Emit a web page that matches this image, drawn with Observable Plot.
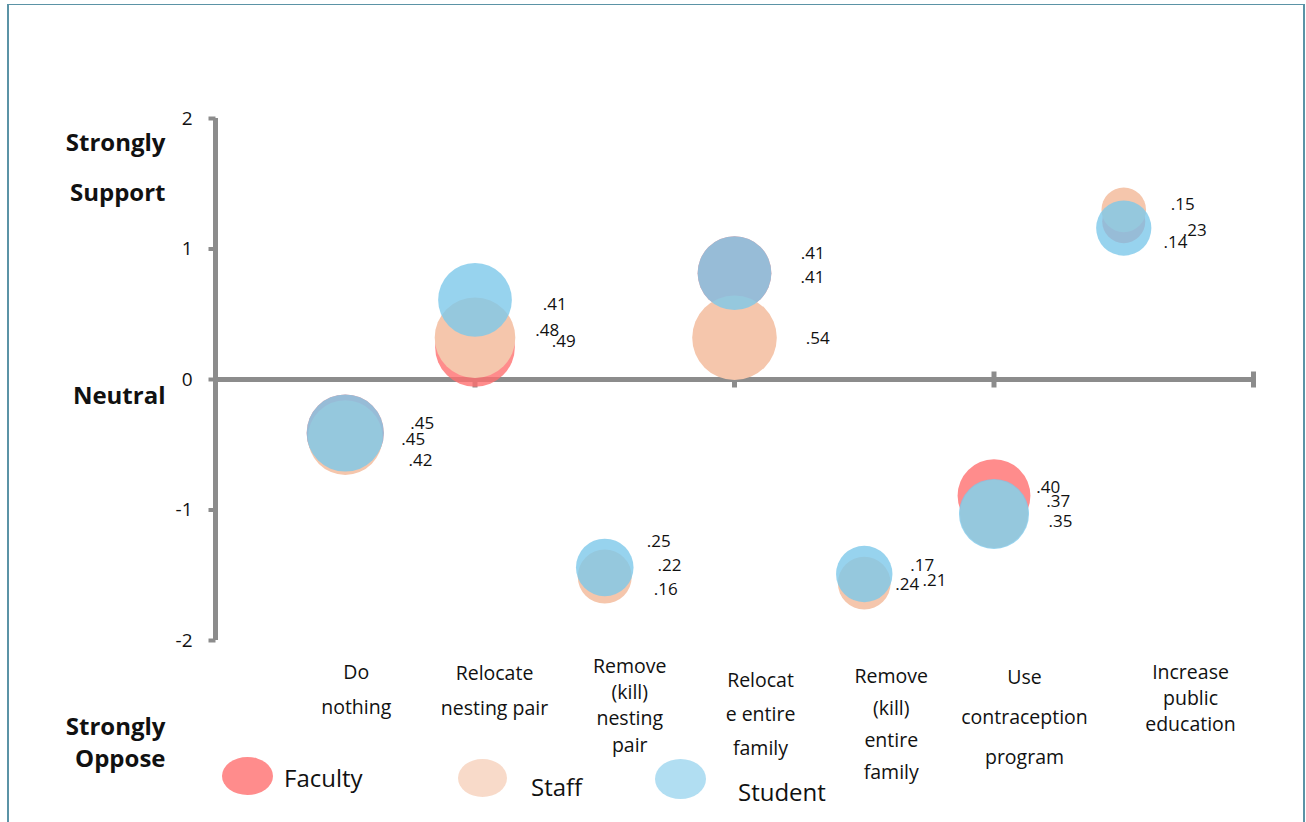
<!DOCTYPE html>
<html>
<head>
<meta charset="utf-8">
<script src="https://cdn.jsdelivr.net/npm/d3@7"></script>
<script src="https://cdn.jsdelivr.net/npm/@observablehq/plot@0.6"></script>
<style>
  html, body { margin: 0; padding: 0; background: #fff; }
  #wrap { position: relative; width: 1306px; height: 822px; overflow: hidden; font-family: "Open Sans", sans-serif; }
  #frame { position: absolute; left: 7px; top: 4px; width: 1294px; height: 840px;
           border-left: 2px solid #5b93a6; border-top: 1px solid #5b93a6; border-right: 2px solid #5b93a6; }
  #wrap svg { position: absolute; left: 0; top: 0; }
  .legend-swatch { border-radius: 50%; }
  .legend-text { font-size: 24px; color: #111; }
</style>
</head>
<body>
<div id="wrap"><div id="frame"></div></div>
<script>
// Management options, one bubble per group at each option
const categories = [
  "Do nothing", "Relocate nesting pair", "Remove (kill) nesting pair",
  "Relocate entire family", "Remove (kill) entire family",
  "Use contraception program", "Increase public education"
];
const categoryX = [1, 2, 3, 4, 5, 6, 7];
const categoryLines = [
  ["Do", "nothing"],
  ["Relocate", "nesting pair"],
  ["Remove", "(kill)", "nesting", "pair"],
  ["Relocat", "e entire", "family"],
  ["Remove", "(kill)", "entire", "family"],
  ["Use", "contraception", "program"],
  ["Increase", "public", "education"]
];

const groups = ["Faculty", "Staff", "Student"];

// Mean support score (-2 strongly oppose .. 2 strongly support)
const facultyMean = [-0.41, 0.25, -1.50, 0.815, -1.55, -0.89, 1.21];
const staffMean   = [-0.445, 0.32, -1.51, 0.32, -1.56, -1.03, 1.30];
const studentMean = [-0.41, 0.61, -1.44, 0.815, -1.49, -1.03, 1.16];

// Bubble size values (shown as labels)
const facultySize = [0.45, 0.48, 0.16, 0.41, 0.17, 0.40, 0.14];
const staffSize   = [0.42, 0.49, 0.22, 0.54, 0.21, 0.35, 0.15];
const studentSize = [0.45, 0.41, 0.25, 0.41, 0.24, 0.37, 0.23];

const yTicks = [-2, -1, 0, 1, 2];
const xTicks = [2, 4, 6, 8];

// Label placement nudges (pixels) for each group's value labels
const facultyLabelNudge = [[77, -9.2], [72.2, -16.8], [61, 14.6], [78.3, -19.9], [58, -16.3], [54.2, -7.7], [51.75, 21.2]];
const staffLabelNudge   = [[75.3, 22.9], [88.8, 4.3], [64.75, -11], [83.3, 1.1], [70.3, -3], [66.5, 7.3], [59, -5.7]];
const studentLabelNudge = [[68, 6.5], [79.8, 4.7], [54, -26], [78, 4.1], [43, 10.3], [64.2, -12.3], [71, 2.6]];

// Category label placement: horizontal nudge, first-line offset below the axis end, line spacing
const categoryLabelDx = [11, 19.5, 25, 26, 27, 30.5, 66.75];
const categoryLabelTop = [32, 33, 26, 40, 36, 37, 32];
const categoryLabelStep = [35, 35, 26.3, 34, 32, 40, 26];

// Scale annotations on the left
const sideText = ["Strongly", "Support", "Neutral", "Strongly", "Oppose"];
const sideAt = [2, 2, 0, -2, -2];
const sideDy = [25, 75, 17, 87, 119];

const table = (means, sizes, group) => categories.map((c, i) => ({
  category: c, x: categoryX[i], y: means[i], size: sizes[i], group
}));
const faculty = table(facultyMean, facultySize, "Faculty");
const staff = table(staffMean, staffSize, "Staff");
const student = table(studentMean, studentSize, "Student");

const fmt = v => d3.format(".2f")(v).replace(/^0/, "");

// Tick glyphs for the hand-drawn axes
const leftTick = { draw(ctx, size) { const r = Math.sqrt(size / Math.PI); ctx.moveTo(-r, 0); ctx.lineTo(0, 0); } };
const crossTick = { draw(ctx, size) { const r = Math.sqrt(size / Math.PI); ctx.moveTo(0, -r); ctx.lineTo(0, r); } };

const axisColor = "#8c8c8c";

const valueLabels = (rows, nudges) => rows.map((d, i) => Plot.text([d], {
  x: "x", y: "y", text: r => fmt(r.size),
  dx: nudges[i][0], dy: nudges[i][1],
  fontSize: 17, fill: "#111", textAnchor: "middle"
}));

// Each category label line as its own positioned text
const categoryLineMarks = categoryLines.flatMap((lines, i) => lines.map((t, j) => Plot.text([t], {
  x: () => categoryX[i], y: () => -2, text: d => d,
  dx: categoryLabelDx[i], dy: categoryLabelTop[i] + j * categoryLabelStep[i],
  fontSize: 19.5, fill: "#111", textAnchor: "middle"
})));

const sideMarks = sideText.map((t, i) => Plot.text([t], {
  x: () => 0, y: () => sideAt[i], text: d => d,
  dx: -50, dy: sideDy[i], textAnchor: "end",
  fontSize: 24, fontWeight: "bold", fill: "#111"
}));

const chart = Plot.plot({
  width: 1306,
  height: 822,
  marginLeft: 215,
  marginRight: 53,
  marginTop: 118,
  marginBottom: 182,
  style: { fontFamily: "Open Sans, sans-serif", background: "transparent", overflow: "visible" },
  x: { domain: [0, 8], axis: null },
  y: { domain: [-2, 2], axis: null },
  r: { type: "sqrt", domain: [0, 0.54], range: [0, 42.3] },
  marks: [
    // axes
    Plot.ruleX([0], { y1: -2, y2: 2, stroke: axisColor, strokeWidth: 5 }),
    Plot.ruleY([0], { x1: 0, x2: 8, stroke: axisColor, strokeWidth: 5 }),
    Plot.dot(yTicks, { x: () => 0, y: d => d, r: 7, symbol: leftTick, stroke: axisColor, strokeWidth: 4 }),
    Plot.dot(xTicks, { x: d => d, y: () => 0, r: 8, symbol: crossTick, stroke: axisColor, strokeWidth: 5 }),
    Plot.text(yTicks, { x: () => 0, y: d => d, text: d => String(d), dx: -23, textAnchor: "end", fontSize: 19, fill: "#111" }),
    // bubbles, drawn faculty → staff → student
    Plot.dot(faculty, { x: "x", y: "y", r: "size", fill: "rgb(255,111,111)", fillOpacity: 0.8, sort: null }),
    Plot.dot(staff, { x: "x", y: "y", r: "size", fill: "rgb(245,198,172)", fillOpacity: 1, sort: null }),
    Plot.dot(student, { x: "x", y: "y", r: "size", fill: "rgb(125,200,234)", fillOpacity: 0.8, sort: null }),
    ...valueLabels(faculty, facultyLabelNudge),
    ...valueLabels(staff, staffLabelNudge),
    ...valueLabels(student, studentLabelNudge),
    ...categoryLineMarks,
    ...sideMarks
  ]
});

const wrap = document.getElementById("wrap");
wrap.appendChild(chart);

// Legend
const legendSwatch = { Faculty: ["rgb(255,140,140)", 1], Staff: ["rgb(245,198,172)", 0.65], Student: ["rgb(125,200,234)", 0.6] };
const legendPos = [
  { cx: 247, cy: 776, w: 51, h: 38, tx: 284, ty: 778 },
  { cx: 482, cy: 778, w: 49, h: 38, tx: 531, ty: 787 },
  { cx: 680, cy: 779, w: 51, h: 40, tx: 738, ty: 792 }
];
groups.forEach((g, i) => {
  const p = legendPos[i];
  const sw = document.createElement("div");
  sw.className = "legend-swatch";
  Object.assign(sw.style, {
    position: "absolute", left: (p.cx - p.w / 2) + "px", top: (p.cy - p.h / 2) + "px",
    width: p.w + "px", height: p.h + "px", background: legendSwatch[g][0], opacity: legendSwatch[g][1]
  });
  wrap.appendChild(sw);
  const tx = document.createElement("div");
  tx.className = "legend-text";
  tx.textContent = g;
  Object.assign(tx.style, { position: "absolute", left: p.tx + "px", top: (p.ty - 17) + "px", lineHeight: "34px" });
  wrap.appendChild(tx);
});
</script>
</body>
</html>
